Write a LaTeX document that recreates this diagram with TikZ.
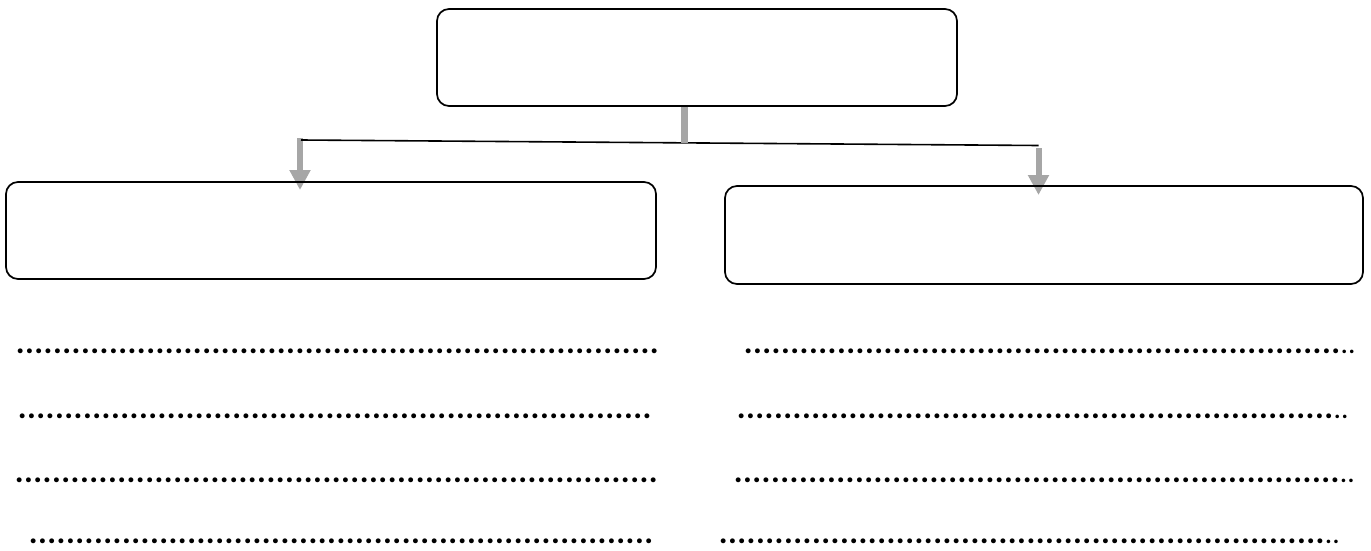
\documentclass[tikz,border=0pt]{standalone}
\usepackage{fontspec}
\setmainfont{Carlito}
\usetikzlibrary{arrows.meta,backgrounds}
\definecolor{gbar}{HTML}{A6A6A6}
\newcommand\mydotrow[2]{\foreach\i in {1,...,#1}{\makebox[9.33pt]{.}}\ifnum#2>0 {\fontsize{24}{24}\selectfont\foreach\i in {1,...,#2}{\makebox[7.4pt]{.}}}\fi}
\tikzset{
  box/.style={draw=black, line width=1.7pt, rounded corners=12pt, inner sep=0pt},
  link/.style={draw=black, line width=1.6pt},
  gstem/.style={draw=gbar, line width=7pt},
  garrow/.style={draw=gbar, line width=6pt, -{Triangle[width=20pt,length=20pt,fill=gbar]}},
  dotrow/.style={inner sep=0pt, anchor=base west, text height=5pt, text depth=0pt, font=\fontsize{33}{33}\selectfont\bfseries}
}
\begin{document}
\begin{tikzpicture}[x=1pt,y=-1pt]
\useasboundingbox (0,0) rectangle (1371,551);
% boxes
\node[box, minimum width=520pt, minimum height=97pt] (top) at (697,57.5) {};
\node[box, minimum width=650pt, minimum height=97pt] (left) at (331,230.5) {};
\node[box, minimum width=638pt, minimum height=98pt] (right) at (1044,235) {};
% junction coordinates
\coordinate (L) at (301,140);
\coordinate (R) at (1038.5,145.5);
\coordinate (J) at (684.5,143);
\coordinate (LT) at (300,190);
\coordinate (RT) at (1038.5,195);
\draw[link] (L) -- (R);
\draw[gstem] (top.south -| J) -- (J);
\begin{scope}[on background layer]
\draw[garrow] (300,138) coordinate (LS) -- (LT);
\draw[garrow] (1038.5,148) coordinate (RS) -- (RT);
\end{scope}
% dotted lines
\node[dotrow] (l1) at (15.3,353) {\mydotrow{69}{0}};
\node[dotrow] (l2) at (17.3,418) {\mydotrow{68}{0}};
\node[dotrow] (l3) at (14.3,482) {\mydotrow{69}{0}};
\node[dotrow] (l4) at (28.3,543) {\mydotrow{67}{0}};
\node[dotrow] (r1) at (743.3,353) {\mydotrow{64}{2}};
\node[dotrow] (r2) at (736.3,418) {\mydotrow{64}{2}};
\node[dotrow] (r3) at (733.3,482) {\mydotrow{65}{2}};
\node[dotrow] (r4) at (718.3,543) {\mydotrow{65}{2}};
\end{tikzpicture}
\end{document}
